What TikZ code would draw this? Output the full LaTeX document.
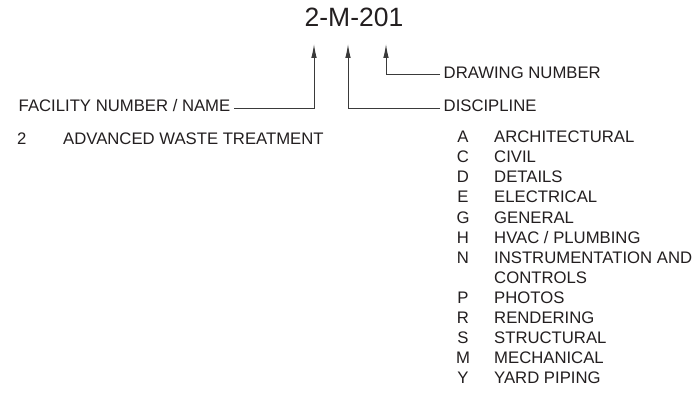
\documentclass[tikz,border=0pt]{standalone}
\usepackage{fontspec}
\setmainfont{Liberation Sans}
\usetikzlibrary{arrows.meta}
\definecolor{ink}{HTML}{231F20}
\definecolor{leader}{HTML}{3A3A3A}
\begin{document}
\begin{tikzpicture}[x=1pt,y=-1pt,
  lbl/.style={anchor=west,inner xsep=0pt,inner ysep=0pt,text height=0.72em,text depth=0pt,
    font=\fontsize{16.7}{18}\selectfont,text=ink},
  tag/.style={lbl,inner xsep=3.5pt},
  conn/.style={draw=leader,line width=1pt,-{Latex[length=14pt,width=5.5pt]}}]
\useasboundingbox[fill=white] (0,0) rectangle (699,396);

% sheet number
\node[anchor=center,inner sep=0pt,text height=0.72em,text depth=0pt,
      font=\fontsize{26.5}{30}\selectfont,text=ink] (num) at (354,22.5) {2-M-201};

% arrow tips under the sheet number
\coordinate (t1) at (314,44);
\coordinate (t2) at (348,44);
\coordinate (t3) at (386,44);

% field labels
\node[tag,anchor=east] (fac) at (234,108) {FACILITY NUMBER / NAME};
\node[tag] (disc) at (440,108) {DISCIPLINE};
\node[tag] (dwg) at (440,75) {DRAWING NUMBER};

\draw[conn] (fac.east) -| (t1);
\draw[conn] (disc.west) -| (t2);
\draw[conn] (dwg.west) -| (t3);

% facility list
\node[lbl] (f2) at (17,141) {2};
\node[lbl] (f2n) at (63,141) {ADVANCED WASTE TREATMENT};

% discipline list
\foreach \k/\c/\t [count=\i from 0] in {
  dA/A/ARCHITECTURAL, dC/C/CIVIL, dD/D/DETAILS, dE/E/ELECTRICAL, dG/G/GENERAL,
  dH/H/{HVAC / PLUMBING}, dN/N/INSTRUMENTATION AND, dN2//CONTROLS, dP/P/PHOTOS,
  dR/R/RENDERING, dS/S/STRUCTURAL, dM/M/MECHANICAL, dY/Y/YARD PIPING}{
  \node[lbl,anchor=center] (\k-c) at (463,139+20.1*\i) {\c};
  \node[lbl] (\k-t) at (494,139+20.1*\i) {\t};
}
\end{tikzpicture}
\end{document}
